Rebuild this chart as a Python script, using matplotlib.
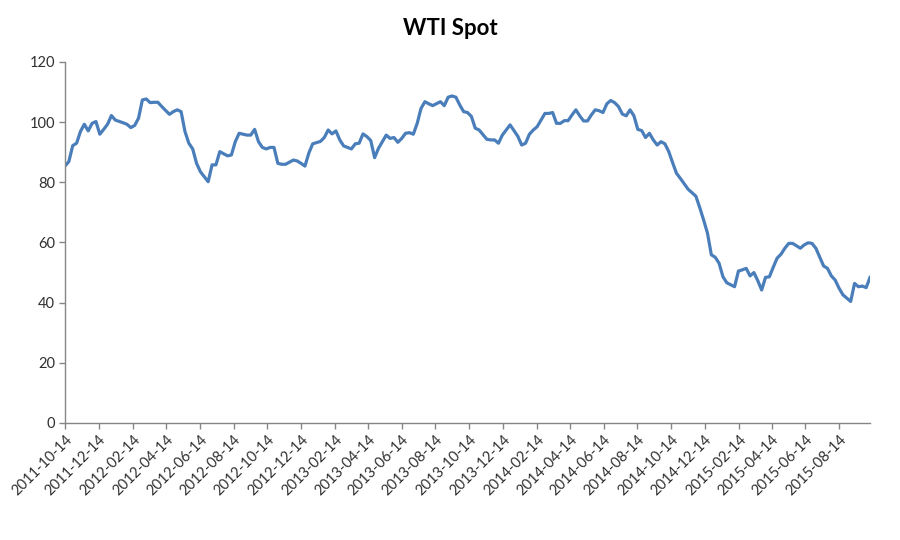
import matplotlib
matplotlib.use("Agg")
import matplotlib.pyplot as plt
import numpy as np
import pandas as pd

start = pd.Timestamp("2011-10-14")

# week number after 2011-10-14 and WTI spot price (USD/bbl)
weeks = [0, 1, 2, 3, 4, 5, 6, 7, 8, 9, 10, 11, 12, 13, 15, 16, 17, 18, 19, 20,
         21, 22, 23, 24, 25, 27, 28, 29, 30, 31, 32, 33, 34, 35, 37, 38, 39, 40, 42, 43,
         44, 45, 47, 48, 49, 50, 51, 52, 53, 54, 55, 56, 57, 59, 60, 61, 62, 63, 64, 66,
         67, 68, 69, 70, 71, 72, 74, 75, 76, 77, 78, 79, 80, 81, 83, 84, 85, 86, 87, 88,
         89, 90, 91, 92, 93, 94, 95, 97, 98, 99, 100, 101, 102, 103, 104, 105, 106, 107, 109, 110,
         111, 112, 113, 114, 115, 117, 118, 119, 120, 121, 122, 124, 125, 126, 127, 128, 129, 130, 131, 132,
         133, 134, 135, 136, 137, 138, 139, 140, 141, 142, 143, 144, 145, 146, 147, 148, 149, 150, 151, 152,
         153, 154, 155, 156, 157, 158, 159, 161, 163, 164, 165, 166, 167, 168, 169, 170, 171, 173, 174, 175,
         176, 177, 178, 179, 180, 181, 182, 183, 184, 185, 186, 187, 188, 190, 191, 192, 193, 194, 196, 197,
         198, 199, 200, 201, 203, 204, 205, 206, 207, 208]
price = [85.4, 86.9, 92.2, 93.0, 96.9, 99.3, 97.1, 99.6, 100.2, 96.0, 97.6, 99.3, 102.2, 100.7, 99.8, 99.3, 98.2, 98.9, 101.3, 107.4,
         107.7, 106.5, 106.6, 106.6, 105.2, 102.6, 103.5, 104.1, 103.5, 96.9, 93.0, 91.1, 86.3, 83.5, 80.2, 85.8, 85.8, 90.2, 88.8, 89.1,
         93.5, 96.3, 95.7, 95.7, 97.6, 93.5, 91.6, 91.1, 91.6, 91.6, 86.3, 86.0, 86.0, 87.4, 87.1, 86.3, 85.4, 89.7, 92.8, 93.6,
         94.9, 97.4, 96.1, 97.1, 94.1, 92.1, 91.1, 92.8, 93.0, 96.1, 95.2, 93.9, 88.2, 91.3, 95.7, 94.6, 94.9, 93.3, 94.6, 96.3,
         96.5, 96.0, 99.6, 104.6, 106.8, 106.1, 105.5, 106.8, 105.5, 108.3, 108.7, 108.3, 105.7, 103.5, 103.2, 101.9, 98.0, 97.4, 94.3, 94.1,
         94.1, 93.0, 95.7, 97.4, 99.1, 95.3, 92.4, 93.0, 96.0, 97.4, 98.5, 102.9, 102.9, 103.2, 99.6, 99.6, 100.5, 100.5, 102.4, 104.1,
         102.1, 100.4, 100.4, 102.4, 104.1, 103.8, 103.2, 106.1, 107.2, 106.5, 105.2, 102.7, 102.1, 104.1, 102.1, 97.6, 97.2, 94.9, 96.3, 94.1,
         92.4, 93.5, 92.8, 90.2, 86.5, 83.0, 81.3, 77.7, 75.4, 71.6, 67.5, 63.1, 55.9, 55.1, 53.1, 48.6, 46.6, 45.3, 50.5, 50.9,
         51.4, 48.9, 50.0, 47.3, 44.2, 48.4, 48.6, 51.8, 54.8, 56.1, 58.1, 59.7, 59.7, 58.1, 59.2, 59.9, 59.7, 58.1, 52.2, 51.4,
         48.9, 47.5, 44.8, 42.6, 40.4, 46.4, 45.3, 45.5, 45.0, 48.4]

dates = [start + pd.Timedelta(weeks=w) for w in weeks]
tick_dates = [start + pd.DateOffset(months=2 * i) for i in range(24)]
tick_labels = [d.strftime("%Y-%m-%d") for d in tick_dates]

plt.rcParams["font.family"] = ["Lato", "DejaVu Sans"]

fig = plt.figure(figsize=(9, 5.4), dpi=100)
ax = fig.add_axes([0.0722, 0.2167, 0.8945, 0.6685])

ax.plot(dates, price, color="#4a7ebb", lw=2.3, solid_joinstyle="round")

ax.set_xlim(dates[0], dates[-1])
ax.set_ylim(0, 120)
ax.set_yticks(np.arange(0, 121, 20))
ax.set_xticks(tick_dates)
ax.set_xticklabels(tick_labels, rotation=45, ha="right", rotation_mode="anchor")

for s in ["top", "right"]:
    ax.spines[s].set_visible(False)
for s in ["left", "bottom"]:
    ax.spines[s].set_color("#868686")
    ax.spines[s].set_linewidth(1)
ax.tick_params(axis="both", colors="#868686", labelcolor="#303030", length=4, width=1)
ax.tick_params(axis="x", labelsize=10.5, pad=3)
ax.tick_params(axis="y", labelsize=10.5, pad=3)

fig.suptitle("WTI Spot", y=0.967, fontsize=16, fontweight="bold", color="#000000")

fig.savefig("out.png", dpi=100)
